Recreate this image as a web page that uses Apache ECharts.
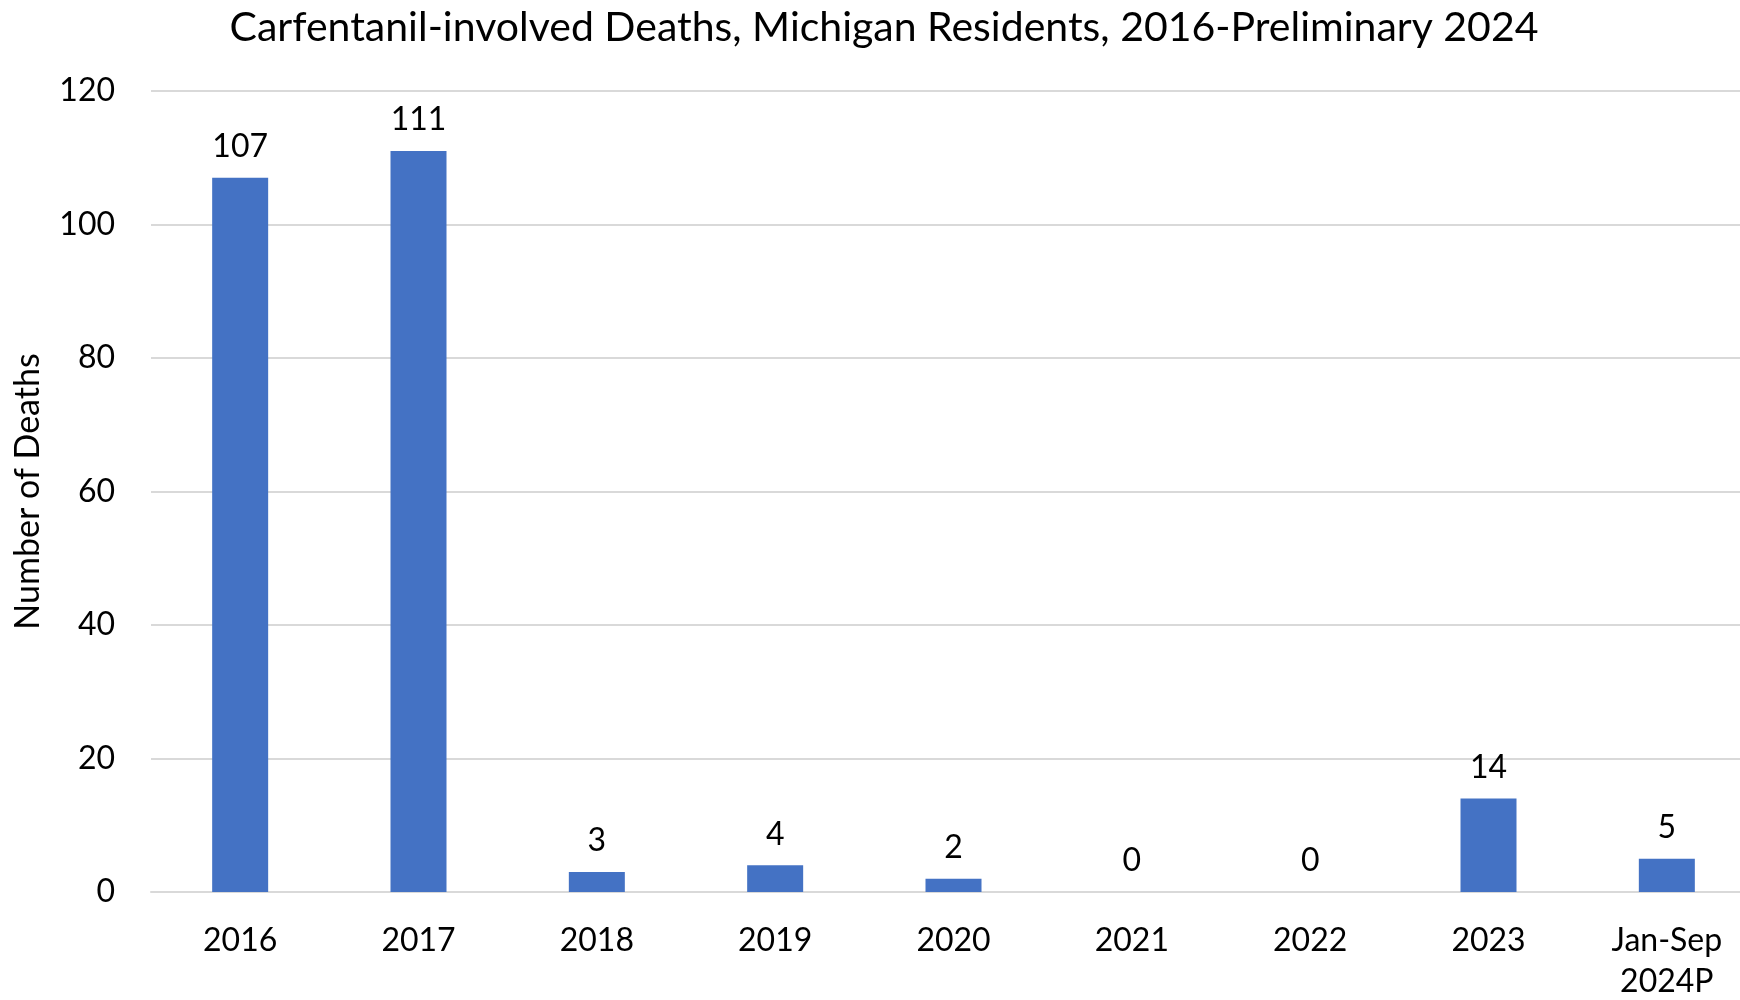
<!DOCTYPE html>
<html>
<head>
<meta charset="utf-8">
<script src="https://cdn.jsdelivr.net/npm/echarts@6/dist/echarts.min.js"></script>
<style>
html,body{margin:0;padding:0;background:#fff;}
#chart{width:1740px;height:1000px;}
</style>
</head>
<body>
<div id="chart"></div>
<script>
const titleText = 'Carfentanil-involved Deaths, Michigan Residents, 2016-Preliminary 2024';
const categories = ['2016','2017','2018','2019','2020','2021','2022','2023','Jan-Sep\n2024P'];
const deaths = [107,111,3,4,2,0,0,14,5];
const yTicks = {min:0, max:120, interval:20};
const yAxisName = 'Number of Deaths';

const FONT = 'Lato';
const chart = echarts.init(document.getElementById('chart'));
chart.setOption({
  backgroundColor:'#ffffff',
  animation:false,
  title:{
    text:titleText,
    left:879, top:2, textAlign:'center',
    textStyle:{fontFamily:FONT,fontWeight:'normal',fontSize:41,color:'#000'}
  },
  grid:{left:151, top:91, width:1605, height:801, containLabel:false, outerBoundsMode:'none'},
  xAxis:{
    type:'category',
    data:categories,
    axisTick:{show:false},
    axisLine:{lineStyle:{color:'#d9d9d9',width:2}},
    axisLabel:{interval:0, margin:28, fontFamily:FONT, fontSize:32, color:'#000', lineHeight:41}
  },
  yAxis:{
    type:'value',
    min:yTicks.min, max:yTicks.max, interval:yTicks.interval,
    name:yAxisName, nameLocation:'middle', nameGap:106, nameRotate:90,
    nameTextStyle:{fontFamily:FONT,fontSize:34,color:'#000'},
    axisLine:{show:false}, axisTick:{show:false},
    axisLabel:{margin:36, fontFamily:FONT, fontSize:32, color:'#000'},
    splitLine:{lineStyle:{color:'#d9d9d9',width:2}}
  },
  series:[{
    type:'bar',
    data:deaths,
    barWidth:56,
    itemStyle:{color:'#4472C4'},
    label:{show:true, position:'top', distance:15, fontFamily:FONT, fontSize:32, color:'#000'}
  }]
});
</script>
</body>
</html>
